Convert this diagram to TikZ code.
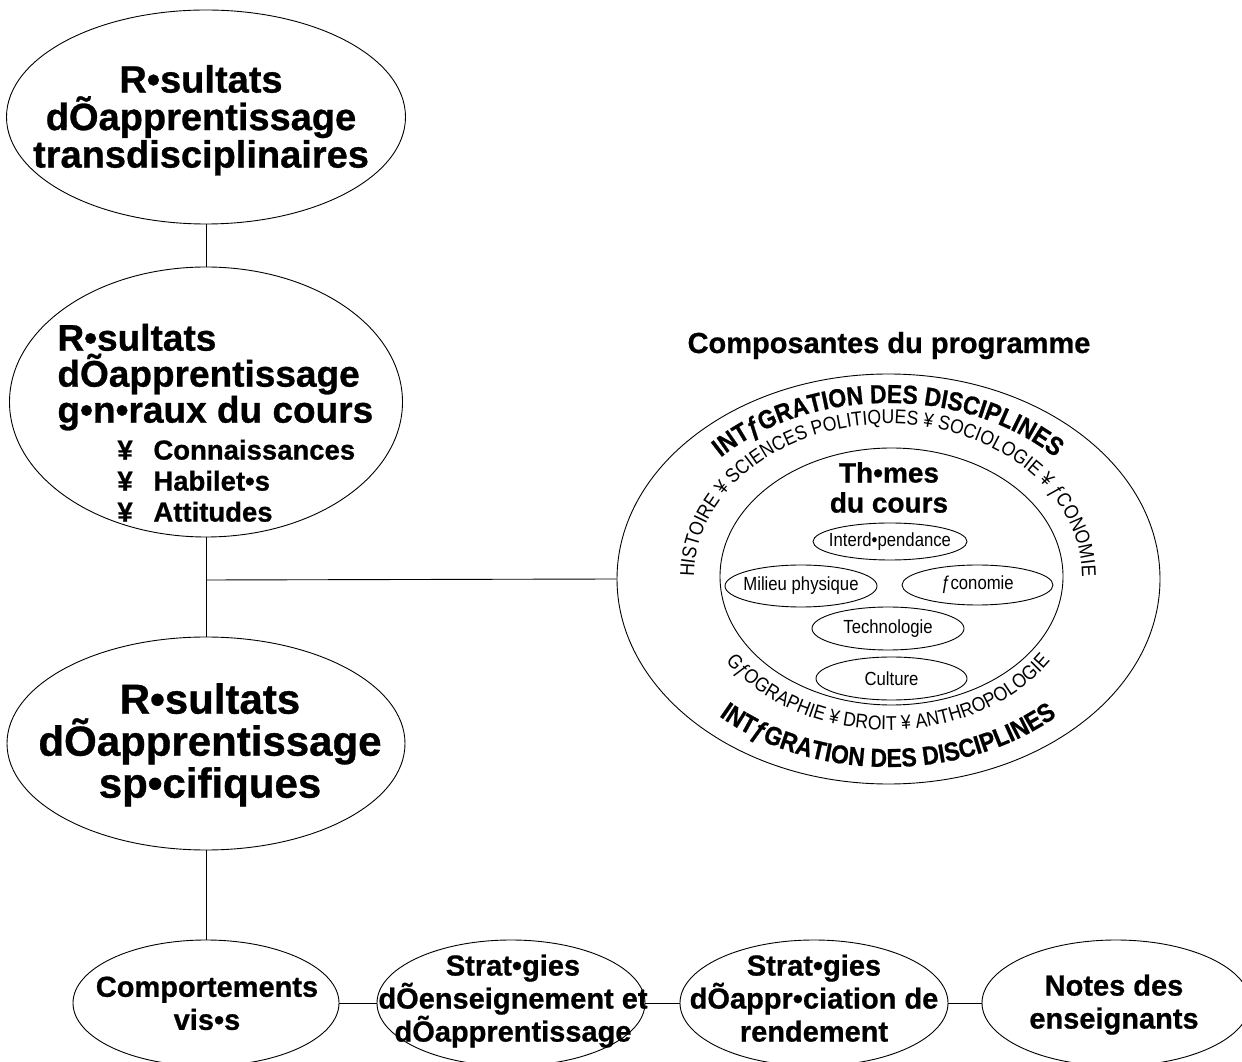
\documentclass[tikz,border=0pt]{standalone}
\usepackage{fontspec}
\setmainfont{Liberation Sans}[BoldFeatures={FakeBold=0.8}]
\newfontfamily\narrowfont{Liberation Sans}[FakeStretch=0.88, BoldFeatures={FakeBold=0.8}]
\usetikzlibrary{shapes.geometric, decorations.text}

\newcommand{\arcbold}{\narrowfont\bfseries\fontsize{26pt}{28pt}\selectfont}
\newcommand{\arclight}{\narrowfont\fontsize{20pt}{22pt}\selectfont}
\newcommand{\bul}{\makebox[36pt][l]{¥}}

\tikzset{
  oval/.style = {draw, ellipse, inner sep=0pt},
  hugetxt/.style = {inner sep=0pt, align=center, font=\bfseries\fontsize{38pt}{37.5pt}\selectfont},
  bigtxt/.style = {inner sep=0pt, align=left, font=\bfseries\fontsize{37pt}{36pt}\selectfont},
  bultxt/.style = {inner sep=0pt, align=left, font=\bfseries\fontsize{27.5pt}{31pt}\selectfont},
  spectxt/.style = {inner sep=0pt, align=center, font=\bfseries\fontsize{42pt}{42pt}\selectfont},
  midtxt/.style = {inner sep=0pt, align=center, font=\bfseries\fontsize{29pt}{33pt}\selectfont},
  themetxt/.style = {inner sep=0pt, align=center, font=\bfseries\fontsize{28pt}{30pt}\selectfont},
  smalltxt/.style = {inner sep=0pt, font=\narrowfont\fontsize{19pt}{21pt}\selectfont}
}

\begin{document}
\begin{tikzpicture}[x=1pt, y=1pt, line width=0.9pt]
\useasboundingbox (0,0) rectangle (1242,1061);
\clip (0,0) rectangle (1242,1061);

\node[oval, minimum width=399pt, minimum height=214pt] (res_trans) at (206,944) {};
\node[hugetxt, anchor=north] (res_trans_l) at (201,996.4) {R•sultats\\dÕapprentissage\\transdisciplinaires};

\node[oval, minimum width=393pt, minimum height=270pt] (res_gen) at (206,659) {};
\node[bigtxt, anchor=north west] (res_gen_l) at (57,737.6) {R•sultats\\dÕapprentissage\\g•n•raux du cours};
\node[bultxt, anchor=north west] (res_gen_b) at (117,621.8) {\bul Connaissances\\\bul Habilet•s\\\bul Attitudes};

\node[oval, minimum width=398pt, minimum height=213pt] (res_spec) at (206,317.5) {};
\node[spectxt, anchor=north] (res_spec_l) at (210,378.2) {R•sultats\\dÕapprentissage\\sp•cifiques};

\coordinate (junc) at (206,481);

\draw (res_trans.south)--(res_gen.north);
\draw (res_gen.south)--(res_spec.north);

\node[oval, minimum width=266pt, minimum height=126pt] (comp) at (206,58) {};
\node[midtxt, anchor=north] (comp_l) at (207,84.9) {Comportements\\vis•s};

\node[oval, minimum width=268pt, minimum height=126pt] (strat_ens) at (511,58) {};
\node[midtxt, anchor=north] (strat_ens_l) at (513,106.9) {Strat•gies\\dÕenseignement et\\dÕapprentissage};

\node[oval, minimum width=268pt, minimum height=126pt] (strat_app) at (814,58) {};
\node[midtxt, anchor=north] (strat_app_l) at (814,106.9) {Strat•gies\\dÕappr•ciation de\\rendement};

\node[oval, minimum width=268pt, minimum height=126pt] (notes) at (1116,58) {};
\node[midtxt, anchor=north] (notes_l) at (1114,86.9) {Notes des\\enseignants};

\draw (res_spec.south)--(comp.north);
\draw (comp)--(strat_ens);
\draw (strat_ens)--(strat_app);
\draw (strat_app)--(notes);

\node[font=\bfseries\fontsize{29pt}{30pt}\selectfont, anchor=base, inner sep=0pt] (prog_title) at (889,708) {Composantes du programme};

\node[oval, minimum width=543pt, minimum height=410pt] (prog_out) at (888.5,482) {};
\node[oval, minimum width=343pt, minimum height=257pt] (prog_in) at (891.5,484.5) {};
\draw (junc)--(prog_out.west);

\node[themetxt, anchor=north] (themes_l) at (889,599.2) {Th•mes\\du cours};

\node[oval, minimum width=154pt, minimum height=37pt] (interd) at (890,519.5) {};
\node[smalltxt] (interd_l) at (interd) {Interd•pendance};
\node[oval, minimum width=152pt, minimum height=42pt] (milieu) at (801,475) {};
\node[smalltxt] (milieu_l) at (milieu) {Milieu physique};
\node[oval, minimum width=151pt, minimum height=40pt] (econ) at (977.5,476) {};
\node[smalltxt] (econ_l) at (econ) {ƒconomie};
\node[oval, minimum width=152pt, minimum height=43pt] (techno) at (888,432.5) {};
\node[smalltxt] (techno_l) at (techno) {Technologie};
\node[oval, minimum width=151pt, minimum height=43pt] (culture) at (891.5,382.5) {};
\node[smalltxt] (culture_l) at (culture) {Culture};

\begin{scope}[shift={(888,484)}]
\path[decorate, decoration={text along path, text align=center,
  text={|\arcbold|INTƒGRATION DES DISCIPLINES}}]
  (180:230 and 174) arc[start angle=180, end angle=0, x radius=230, y radius=174];
\path[decorate, decoration={text along path, text align=center,
  text={|\arclight|HISTOIRE ¥ SCIENCES POLITIQUES ¥ SOCIOLOGIE ¥ ƒCONOMIE}}]
  (200:194 and 153) arc[start angle=200, end angle=-20, x radius=194, y radius=153];
\path[decorate, decoration={text along path, text align=center,
  text={|\arclight|GƒOGRAPHIE ¥ DROIT ¥ ANTHROPOLOGIE}}]
  (180:194 and 153) arc[start angle=180, end angle=360, x radius=194, y radius=153];
\path[decorate, decoration={text along path, text align=center,
  text={|\arcbold|INTƒGRATION DES DISCIPLINES}}]
  (180:248 and 190) arc[start angle=180, end angle=360, x radius=248, y radius=190];
\end{scope}
\end{tikzpicture}
\end{document}
